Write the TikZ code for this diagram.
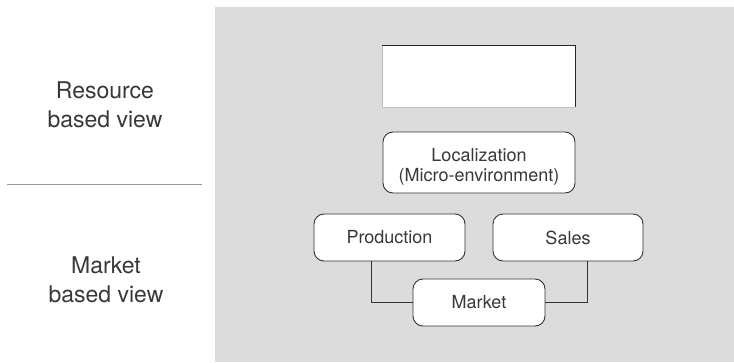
\documentclass[tikz,border=0pt]{standalone}
\usepackage{fontspec}
\setmainfont{TeX Gyre Heros}
\begin{document}
\begin{tikzpicture}[x=1pt,y=-1pt,
  txt/.style={text=black!78, inner sep=0pt, align=center},
  rbox/.style={draw=black!80, line width=0.9pt, fill=white, rounded corners=10pt, txt, font=\fontsize{18}{20}\selectfont},
  conn/.style={draw=black!80, line width=0.9pt},
  side/.style={txt, font=\fontsize{23}{29.5}\selectfont}]
\useasboundingbox (0,0) rectangle (734,362);
\fill[fill={rgb,255:red,220;green,220;blue,220}] (215,7) rectangle (734,362);
% top empty box
\fill[white] (382,45) rectangle (575,107);
\draw[black!25, line width=0.8pt] (382,45) -- (382,107) -- (575,107);
\draw[black!85, line width=0.9pt] (382,45) -- (575,45) -- (575,107);
\node[rbox, minimum width=192pt, minimum height=61pt] (loc) at (479,162.5) {\rule{0pt}{21pt}Localization\\(Micro-environment)};
\node[rbox, minimum width=151pt, minimum height=47pt] (prod) at (389.5,237.5) {Production};
\node[rbox, minimum width=150pt, minimum height=47pt] (sales) at (568,237.5) {Sales};
\node[rbox, minimum width=132pt, minimum height=47pt] (mkt) at (479,302.5) {Market};
\draw[conn] ([xshift=-18pt]prod.south) |- (mkt.west);
\draw[conn] ([xshift=19pt]sales.south) |- (mkt.east);
% left side
\node[side] (rbv) at (105,105) {Resource\\based view};
\node[side] (mbv) at (106,280) {Market\\based view};
\coordinate (d1) at (7,184);
\coordinate (d2) at (202,184);
\draw[black!40, line width=0.8pt] (d1) -- (d2);
\end{tikzpicture}
\end{document}
